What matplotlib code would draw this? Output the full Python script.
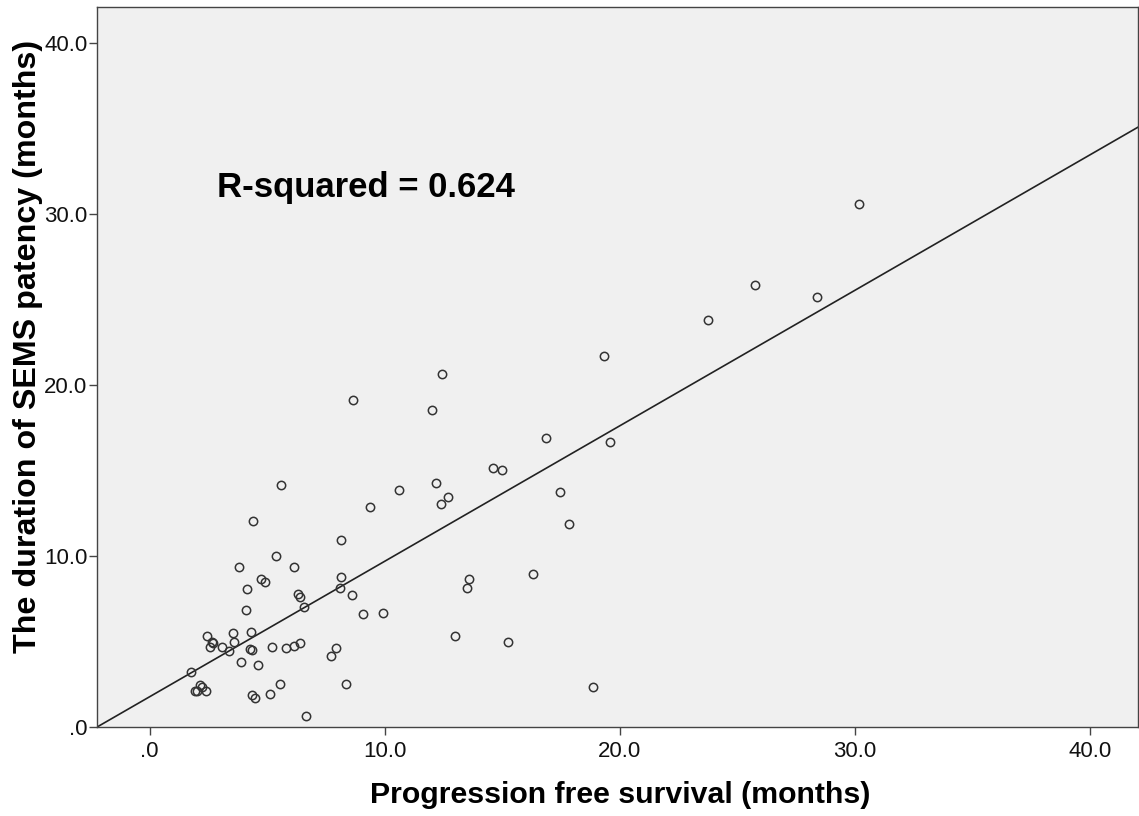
import matplotlib.pyplot as plt
from matplotlib.ticker import FuncFormatter

plt.rcParams['font.family'] = ['Liberation Sans', 'DejaVu Sans']

# Progression free survival (months) vs SEMS patency (months)
pfs = [1.76, 1.94, 2.03, 2.16, 2.23, 2.40, 2.45, 2.55, 2.64, 2.70,
       3.06, 3.39, 3.56, 3.59, 3.79, 3.90, 4.10, 4.16, 4.26, 4.31,
       4.34, 4.37, 4.40, 4.50, 4.62, 4.72, 4.91, 5.11, 5.21, 5.39,
       5.53, 5.59, 5.79, 6.16, 6.16, 6.33, 6.40, 6.41, 6.57, 6.67,
       7.70, 7.94, 8.09, 8.13, 8.16, 8.34, 8.60, 8.67, 9.09, 9.36,
       9.93, 10.60, 12.00, 12.19, 12.40, 12.44, 12.71, 13.01, 13.50, 13.60,
       14.61, 14.98, 15.23, 16.30, 16.86, 17.46, 17.83, 18.88, 19.35, 19.57,
       23.74, 25.74, 28.38, 30.17]
patency = [3.20, 2.11, 2.09, 2.46, 2.36, 2.13, 5.34, 4.68, 4.99, 4.89,
           4.70, 4.46, 5.52, 4.95, 9.38, 3.78, 6.86, 8.05, 4.54, 5.56,
           4.52, 1.89, 12.05, 1.68, 3.65, 8.64, 8.46, 1.95, 4.70, 10.02,
           2.51, 14.13, 4.60, 9.34, 4.74, 7.78, 7.58, 4.93, 7.04, 0.66,
           4.17, 4.64, 8.15, 8.77, 10.94, 2.53, 7.72, 19.14, 6.59, 12.85,
           6.68, 13.88, 18.56, 14.27, 13.04, 20.62, 13.45, 5.32, 8.11, 8.67,
           15.13, 15.03, 4.99, 8.95, 16.90, 13.74, 11.87, 2.36, 21.68, 16.69,
           23.80, 25.83, 25.17, 30.58]

# fit line as shown on the chart
intercept = 1.77
slope = 0.792
r_squared = 0.624

x_lim = (-2.24, 42.05)
y_lim = (0, 42.1)

fig = plt.figure(figsize=(11.39, 8.16), dpi=100)
ax = fig.add_axes([97 / 1139, 89 / 816, 1041 / 1139, 720 / 816])
ax.set_facecolor('#f0f0f0')

ax.plot(pfs, patency, 'o', ms=6, mfc='none', mec='#333333', mew=1.1, zorder=3)
ax.plot(list(x_lim), [intercept + slope * v for v in x_lim], color='#222222', lw=1.2, zorder=2)

ax.set_xlim(*x_lim)
ax.set_ylim(*y_lim)
ax.set_xticks([0, 10, 20, 30, 40])
ax.set_yticks([0, 10, 20, 30, 40])

# SPSS style labels: ".0", "10.0"
fmt = FuncFormatter(lambda v, p: f"{v:.1f}"[1:] if f"{v:.1f}".startswith('0') else f"{v:.1f}")
ax.xaxis.set_major_formatter(fmt)
ax.yaxis.set_major_formatter(fmt)
ax.tick_params(direction='out', length=6, width=1, color='#444444',
               labelsize=16, labelcolor='#111111')
ax.tick_params(axis='x', pad=4)
ax.tick_params(axis='y', pad=1)

for s in ax.spines.values():
    s.set_color('#444444')
    s.set_linewidth(1)

ax.text(2.85, 31.0, f"R-squared = {r_squared}", fontsize=25, fontweight='bold',
        va='baseline', ha='left')

fig.text(620 / 1139, 1 - 795 / 816, "Progression free survival (months)",
         fontsize=21.8, fontweight='bold', ha='center', va='center')
fig.text(28 / 1139, 1 - 346 / 816, "The duration of SEMS patency (months)",
         fontsize=23.2, fontweight='bold', ha='center', va='center', rotation=90)

fig.savefig('out.png', dpi=100)
